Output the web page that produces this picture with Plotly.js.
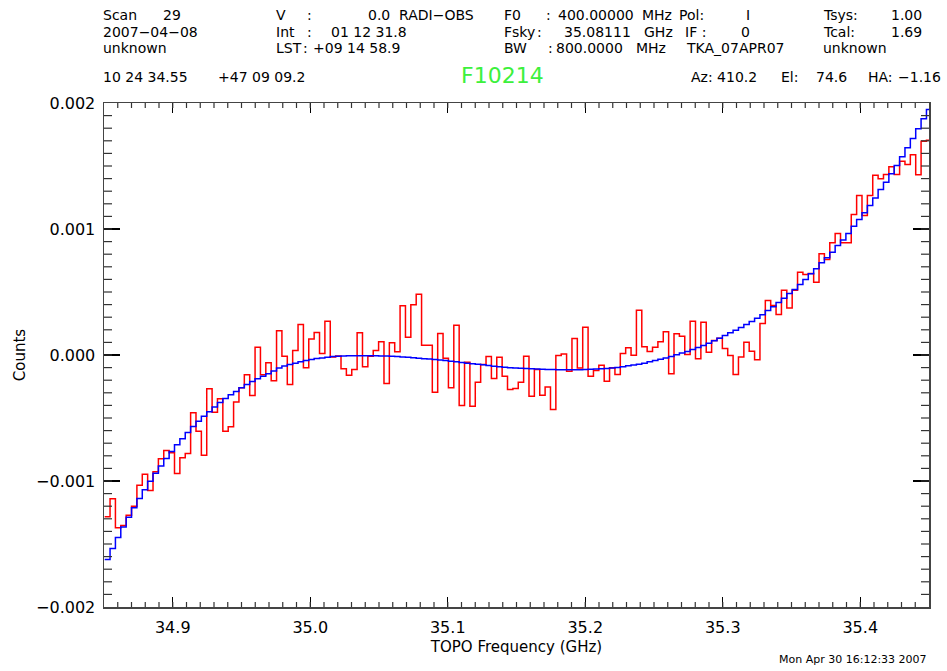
<!DOCTYPE html>
<html>
<head>
<meta charset="utf-8">
<script src="https://cdn.plot.ly/plotly-3.0.1.min.js"></script>
<style>html,body{margin:0;padding:0;background:#fff}</style>
</head>
<body>
<div id="plot" style="width:947px;height:671px"></div>
<script>
// Channel grid (GHz)
const firstChannelCentre = 34.85049 + 0.00390625 / 2;
const channelWidth = 0.00390625;

// Spectrum and fitted baseline, in units of 1e-3 counts, one value per channel
const spectrum = [
  -1.284, -1.141, -1.371, -1.353, -1.271, -1.200, -1.033, -0.946, -1.075, -0.927,
  -0.824, -0.758, -0.776, -0.940, -0.816, -0.782, -0.459, -0.605, -0.795, -0.268,
  -0.454, -0.348, -0.605, -0.570, -0.374, -0.260, -0.157, -0.321, 0.062, -0.157,
  -0.062, -0.205, 0.192, -0.010, -0.234, 0.036, 0.242, -0.102, 0.126, 0.179,
  0.012, 0.268, -0.015, -0.007, -0.110, -0.160, -0.115, 0.176, -0.094, -0.010,
  0.036, 0.105, -0.226, 0.097, 0.025, 0.390, 0.141, 0.398, 0.483, 0.078,
  0.078, -0.295, 0.171, -0.025, -0.260, 0.237, -0.400, -0.057, -0.406, -0.216,
  -0.075, -0.012, -0.187, -0.017, -0.168, -0.274, -0.266, -0.216, -0.010, -0.327,
  -0.115, -0.319, -0.253, -0.433, -0.004, 0.007, -0.128, 0.131, -0.104, 0.221,
  -0.168, -0.123, -0.081, -0.208, -0.102, -0.155, 0.012, 0.057, -0.001, 0.356,
  0.065, 0.028, 0.062, 0.105, 0.184, -0.149, 0.168, 0.149, 0.004, 0.268,
  -0.030, 0.260, 0.022, 0.115, 0.133, 0.052, -0.004, -0.155, -0.015, 0.102,
  0.030, -0.038, 0.250, 0.433, 0.393, 0.321, 0.513, 0.374, 0.514, 0.657,
  0.639, 0.647, 0.578, 0.803, 0.758, 0.890, 0.964, 0.890, 0.890, 1.115,
  1.266, 1.107, 1.266, 1.427, 1.398, 1.433, 1.494, 1.433, 1.538, 1.512,
  1.589, 1.430, 1.697, 1.705
];
const baseline = [
  -1.623, -1.536, -1.448, -1.366, -1.287, -1.213, -1.139, -1.070, -1.001, -0.938,
  -0.880, -0.821, -0.766, -0.713, -0.664, -0.616, -0.568, -0.526, -0.487, -0.450,
  -0.413, -0.377, -0.345, -0.316, -0.290, -0.260, -0.234, -0.210, -0.189, -0.168,
  -0.149, -0.127, -0.104, -0.088, -0.075, -0.065, -0.054, -0.044, -0.036, -0.028,
  -0.023, -0.017, -0.012, -0.010, -0.007, -0.006, -0.005, -0.005, -0.005, -0.005,
  -0.006, -0.007, -0.008, -0.010, -0.012, -0.015, -0.018, -0.021, -0.025, -0.029,
  -0.032, -0.036, -0.040, -0.044, -0.049, -0.054, -0.060, -0.065, -0.069, -0.074,
  -0.078, -0.084, -0.089, -0.094, -0.097, -0.101, -0.104, -0.106, -0.108, -0.110,
  -0.112, -0.114, -0.115, -0.116, -0.117, -0.118, -0.118, -0.118, -0.118, -0.116,
  -0.114, -0.112, -0.110, -0.108, -0.104, -0.099, -0.094, -0.086, -0.080, -0.073,
  -0.065, -0.054, -0.044, -0.033, -0.023, -0.012, 0.001, 0.015, 0.028, 0.044,
  0.060, 0.075, 0.094, 0.113, 0.133, 0.155, 0.176, 0.197, 0.218, 0.242,
  0.266, 0.292, 0.319, 0.353, 0.383, 0.417, 0.450, 0.488, 0.520, 0.560,
  0.599, 0.644, 0.684, 0.732, 0.771, 0.816, 0.869, 0.912, 0.964, 1.022,
  1.075, 1.128, 1.187, 1.247, 1.313, 1.372, 1.438, 1.504, 1.573, 1.644,
  1.718, 1.795, 1.875, 1.948
];
const valueScale = 1e-3;

// Header block: [text, x px, y px]
const headerLines = [
  ["Scan", 102, 15], ["29", 162, 15],
  ["2007\u221204\u221208", 102, 32],
  ["unknown", 102, 48],
  ["V", 275, 15], [":", 306, 15], ["0.0", 367, 15], ["RADI\u2212OBS", 398, 15],
  ["Int", 275, 32], [":", 306, 32], ["01 12 31.8", 330, 32],
  ["LST", 275, 48], [":", 302, 48], ["+09 14 58.9", 312, 48],
  ["F0", 503, 15], [":", 545, 15], ["400.00000", 557, 15], ["MHz", 641, 15], ["Pol:", 678, 15], ["I", 745, 15],
  ["Fsky", 503, 32], [":", 536, 32], ["35.08111", 563, 32], ["GHz", 643, 32], ["IF :", 684, 32], ["0", 740, 32],
  ["BW", 503, 48], [":", 547, 48], ["800.0000", 555, 48], ["MHz", 635, 48], ["TKA_07APR07", 685, 48],
  ["Tsys:", 822, 15], ["1.00", 890, 15],
  ["Tcal:", 822, 32], ["1.69", 890, 32],
  ["unknown", 822, 48],
  ["10 24 34.55", 102, 77], ["+47 09 09.2", 217, 77],
  ["Az: 410.2", 690, 77], ["El:", 780, 77], ["74.6", 815, 77], ["HA:", 867, 77], ["\u22121.16", 897, 77]
];
const sourceName = "F10214";
const plotDate = "Mon Apr 30 16:12:33 2007";

const W = 947, H = 671;
const M = {l: 104, r: 18, t: 103, b: 64};
const pw = W - M.l - M.r, ph = H - M.t - M.b;
const px2x = p => (p - M.l) / pw;
const py2y = p => (H - M.b - p) / ph;

const xRange = [34.85, 35.45];
const yRange = [-0.002, 0.002];

// minor tick positions: every 0.01 GHz and every 1e-4 counts
const xMinor = [], yMinor = [];
for (let i = 1; i < 60; i++) xMinor.push(+(34.85 + i * 0.01).toFixed(3));
for (let i = 1; i < 40; i++) yMinor.push(+(-0.002 + i * 0.0001).toFixed(5));

// Build a stepped trace: each channel drawn flat across its own width
function stepped(vals) {
  const xs = [firstChannelCentre - channelWidth / 2];
  const ys = [vals[0] * valueScale];
  vals.forEach((v, i) => {
    xs.push(firstChannelCentre + i * channelWidth);
    ys.push(v * valueScale);
  });
  xs.push(firstChannelCentre + (vals.length - 0.5) * channelWidth);
  ys.push(vals[vals.length - 1] * valueScale);
  return {x: xs, y: ys};
}

const s = stepped(spectrum);
const b = stepped(baseline);

const traces = [
  {x: s.x, y: s.y, type: 'scatter', mode: 'lines',
   line: {color: '#ff0000', width: 1.5, shape: 'hvh'}, hoverinfo: 'skip'},
  {x: b.x, y: b.y, type: 'scatter', mode: 'lines',
   line: {color: '#0000ff', width: 1.5, shape: 'hvh'}, hoverinfo: 'skip'}
];

// Minor ticks on all four sides of the frame, placed on the axis scales
const tickLine = {color: '#333', width: 1.2};
const shapes = [];
xMinor.forEach(v => {
  shapes.push({type: 'line', layer: 'above', xref: 'x', yref: 'paper', ysizemode: 'pixel',
    yanchor: 0, x0: v, x1: v, y0: 0, y1: 5, line: tickLine});
  shapes.push({type: 'line', layer: 'above', xref: 'x', yref: 'paper', ysizemode: 'pixel',
    yanchor: 1, x0: v, x1: v, y0: 0, y1: -5, line: tickLine});
});
yMinor.forEach(v => {
  shapes.push({type: 'line', layer: 'above', xref: 'paper', yref: 'y', xsizemode: 'pixel',
    xanchor: 0, x0: 0, x1: 8, y0: v, y1: v, line: tickLine});
  shapes.push({type: 'line', layer: 'above', xref: 'paper', yref: 'y', xsizemode: 'pixel',
    xanchor: 1, x0: 0, x1: -8, y0: v, y1: v, line: tickLine});
});

const font = "DejaVu Sans, sans-serif";
const annotations = headerLines.map(([t, x, y]) => ({
  text: t, x: px2x(x), y: py2y(y), xref: 'paper', yref: 'paper',
  xanchor: 'left', yanchor: 'middle', showarrow: false, borderpad: 0,
  font: {family: font, size: 14, color: '#000'}
}));
annotations.push({
  text: sourceName, x: px2x(502), y: py2y(76), xref: 'paper', yref: 'paper',
  xanchor: 'center', yanchor: 'middle', showarrow: false, borderpad: 0,
  font: {family: font, size: 22, color: '#3cf03c'}
});
annotations.push({
  text: plotDate, x: px2x(928), y: py2y(659), xref: 'paper', yref: 'paper',
  xanchor: 'right', yanchor: 'middle', showarrow: false, borderpad: 0,
  font: {family: font, size: 11, color: '#000'}
});

const layout = {
  width: W, height: H,
  margin: M,
  paper_bgcolor: '#fff', plot_bgcolor: '#fff',
  showlegend: false,
  font: {family: font, size: 16, color: '#000'},
  xaxis: {
    range: xRange, dtick: 0.1, tick0: 34.9, tickformat: '.1f',
    ticks: 'inside', ticklen: 10, tickwidth: 1.3, tickcolor: '#000',
    showline: true, linecolor: '#444', linewidth: 1.5, mirror: 'ticks',
    showgrid: false, zeroline: false,
    tickfont: {family: font, size: 16, color: '#000'},
    ticklabelstandoff: 5,
    title: {text: 'TOPO Frequency (GHz)', font: {family: font, size: 15, color: '#000'}, standoff: 6}
  },
  yaxis: {
    range: yRange, dtick: 0.001, tick0: 0, tickformat: '.3f',
    ticks: 'inside', ticklen: 16, tickwidth: 1.3, tickcolor: '#000',
    showline: true, linecolor: '#444', linewidth: 1.5, mirror: 'ticks',
    showgrid: false, zeroline: false,
    tickfont: {family: font, size: 16, color: '#000'},
    ticklabelstandoff: 4,
    title: {text: 'Counts', font: {family: font, size: 15, color: '#000'}, standoff: 7}
  },
  shapes: shapes,
  annotations: annotations
};

Plotly.newPlot('plot', traces, layout, {staticPlot: true, displayModeBar: false});
</script>
</body>
</html>
